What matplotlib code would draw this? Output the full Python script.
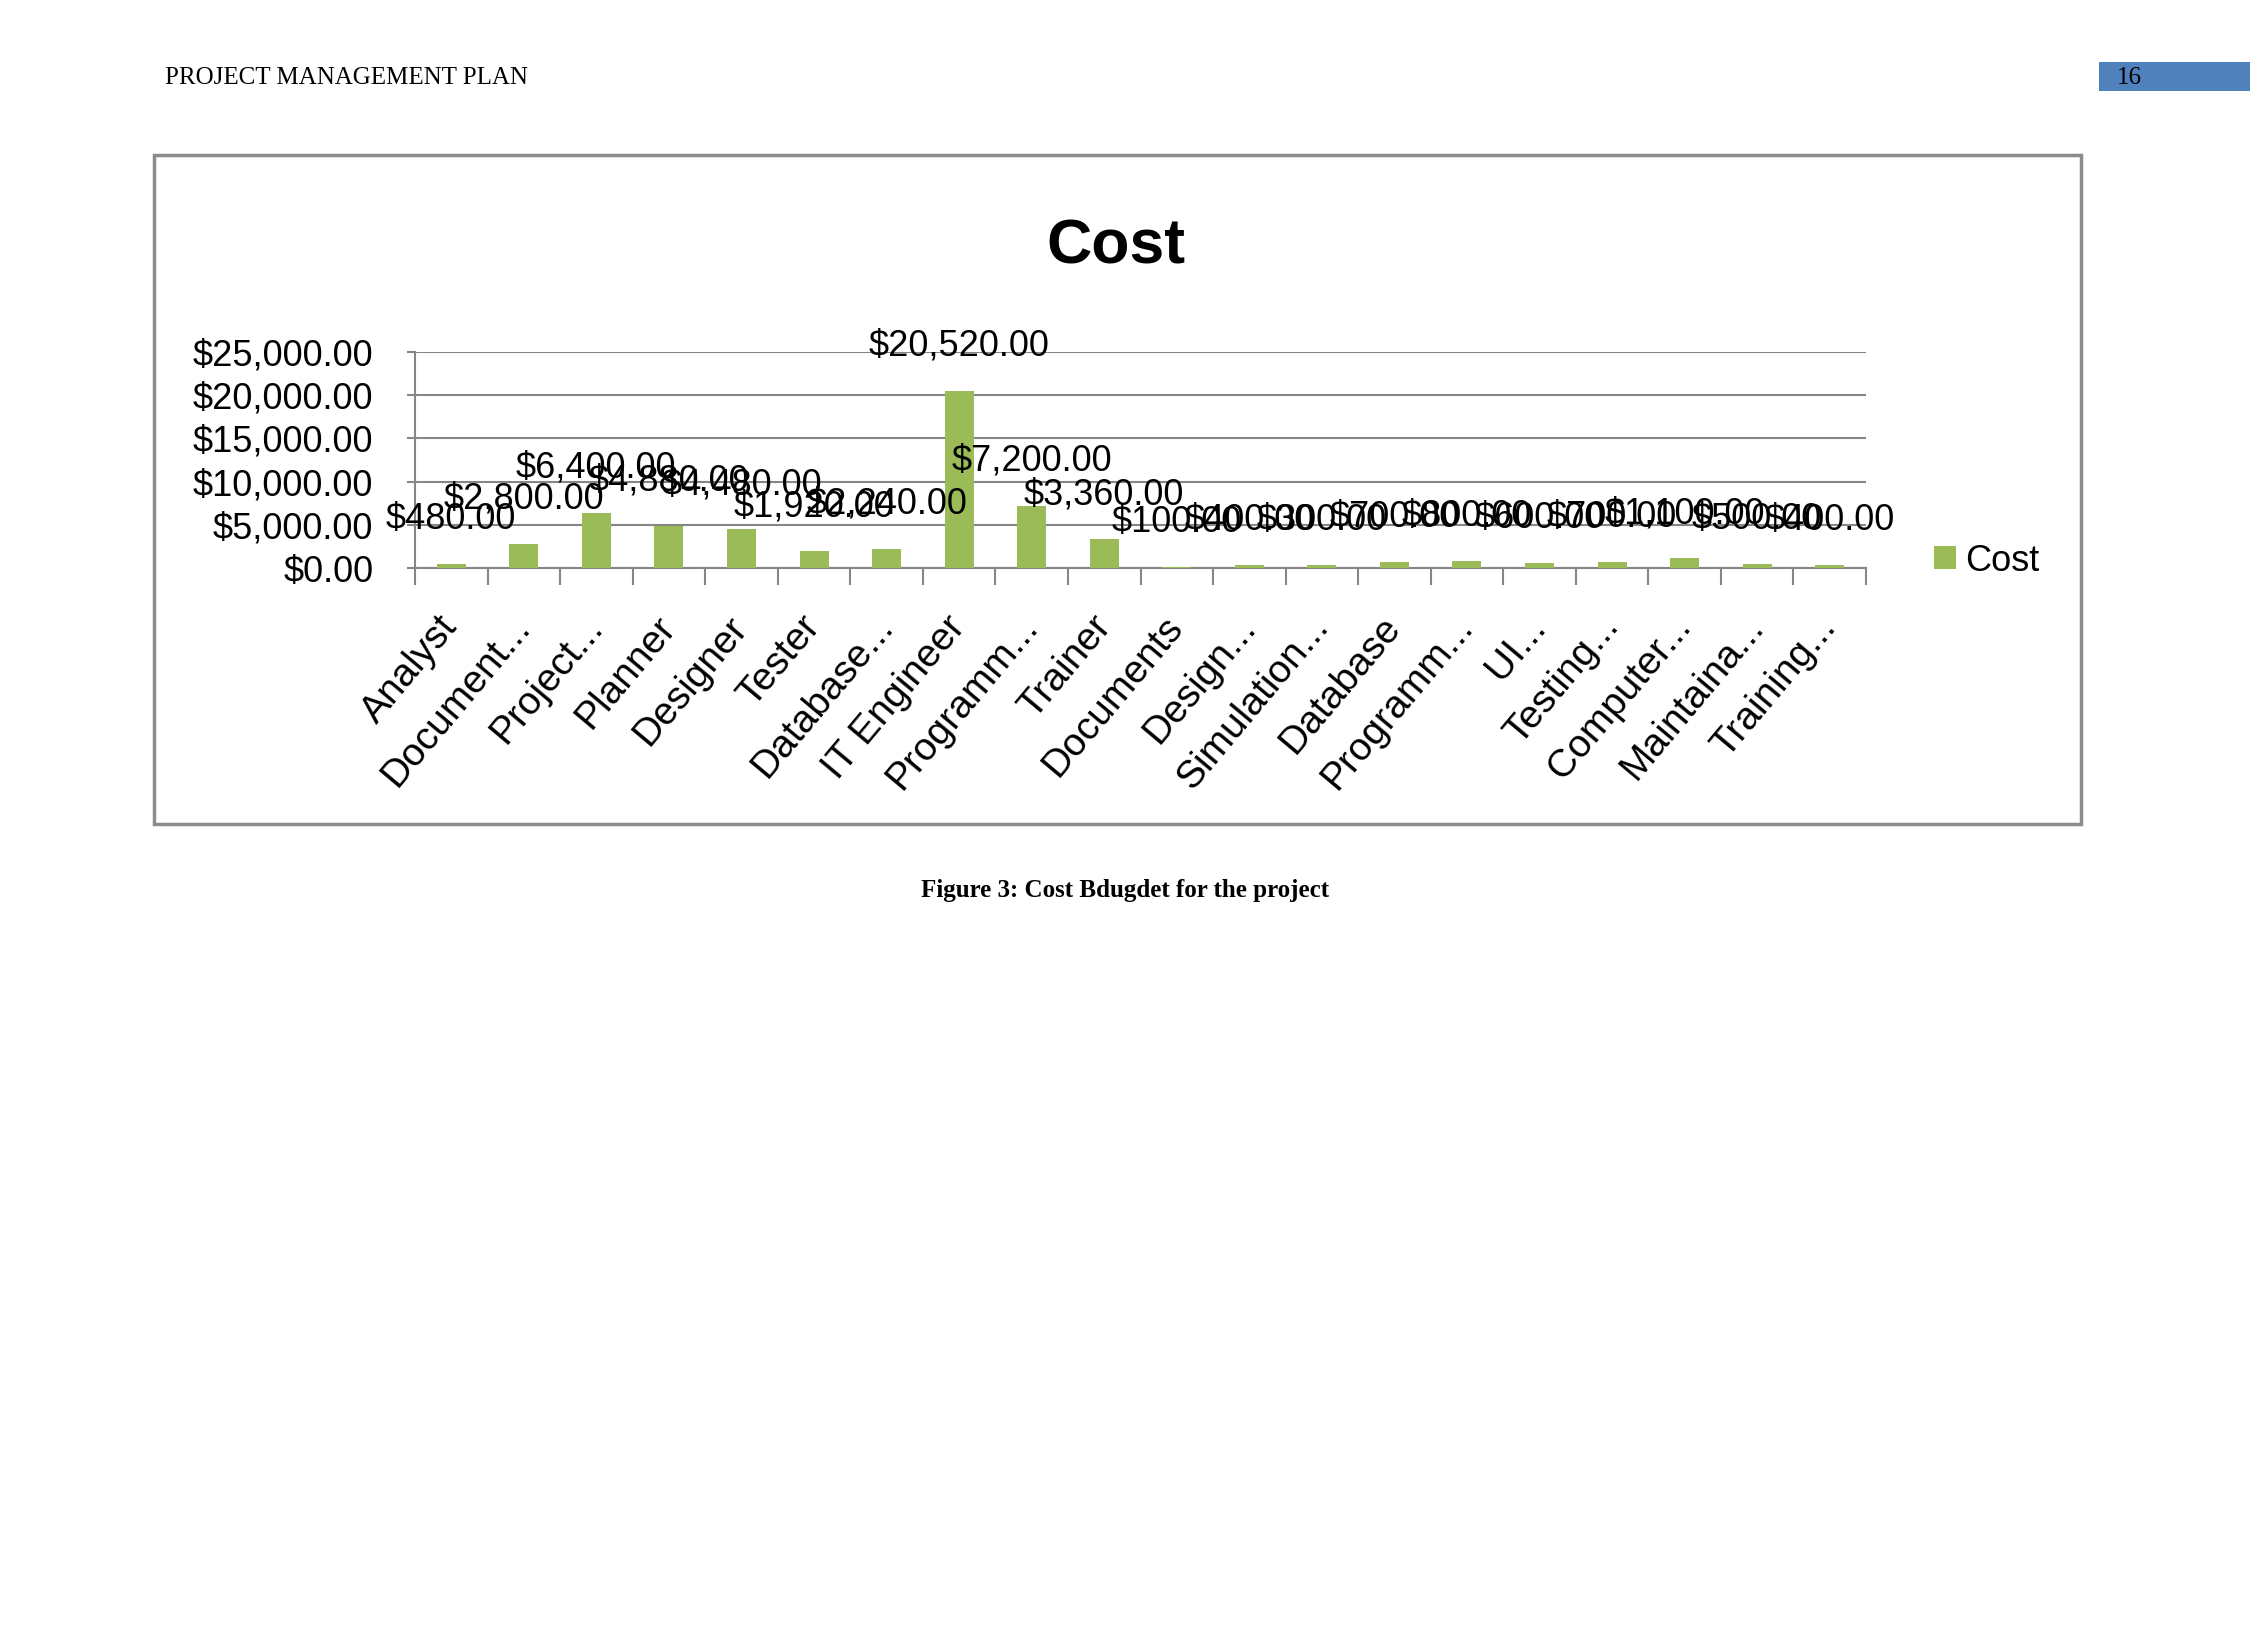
import matplotlib
matplotlib.use("Agg")
import matplotlib.pyplot as plt
from matplotlib import font_manager
from matplotlib.patches import Rectangle

# chart data
categories = [
    "Analyst", "Document...", "Project...", "Planner", "Designer", "Tester",
    "Database...", "IT Engineer", "Programm...", "Trainer", "Documents",
    "Design...", "Simulation...", "Database", "Programm...", "UI...",
    "Testing...", "Computer...", "Maintaina...", "Training...",
]
costs = [
    480, 2800, 6400, 4880, 4480, 1920, 2240, 20520, 7200, 3360, 100,
    400, 300, 700, 800, 600, 700, 1100, 500, 400,
]
y_ticks = [0, 5000, 10000, 15000, 20000, 25000]

header_text = "PROJECT MANAGEMENT PLAN"
page_number = "16"
chart_title = "Cost"
series_name = "Cost"
caption = "Figure 3: Cost Bdugdet for the project"

BAR_COLOR = "#9BBB59"
GRID_COLOR = "#868686"


def pick_font(names, fallback):
    installed = {f.name for f in font_manager.fontManager.ttflist}
    for name in names:
        if name in installed:
            return name
    return fallback


chart_font = pick_font(["Liberation Sans Narrow", "DejaVu Sans Condensed"], "Liberation Sans")
serif_font = pick_font(["Liberation Serif", "Times New Roman"], "DejaVu Serif")
narrow = chart_font != "Liberation Sans"
fs = 30 if narrow else 26

W, H = 2250, 1651
fig = plt.figure(figsize=(W / 100, H / 100), dpi=100)
fig.patch.set_facecolor("white")

# page header
fig.text(165 / W, 1 - 78 / H, header_text, family=serif_font, fontsize=18,
         ha="left", va="center", color="black")
fig.patches.append(Rectangle((2099 / W, 1 - 91 / H), (W - 2099) / W, 29 / H,
                             transform=fig.transFigure, facecolor="#4F81BD",
                             edgecolor="none", zorder=-1))
fig.text(2117 / W, 1 - 78 / H, page_number, family=serif_font, fontsize=18,
         ha="left", va="center", color="black")

# chart frame
fig.patches.append(Rectangle((154 / W, 1 - 824 / H), (2081 - 154) / W, (824 - 155) / H,
                             transform=fig.transFigure, facecolor="white",
                             edgecolor="#8C8C8C", linewidth=2.5, zorder=-1))

fig.text(1116 / W, 1 - 247 / H, chart_title, family=chart_font,
         fontsize=52 if narrow else 45, fontweight="bold", ha="center", va="center")

ax = fig.add_axes([415 / W, 1 - 568 / H, (1866 - 415) / W, (568 - 352) / H])
x = list(range(len(categories)))
bars = ax.bar(x, costs, width=0.4, color=BAR_COLOR, label=series_name, zorder=3)

for xi, v in zip(x, costs):
    ax.annotate(f"${v:,.2f}", (xi, v), xytext=(0, 32), textcoords="offset points",
                ha="center", va="center", family=chart_font, fontsize=fs, zorder=5,
                annotation_clip=False)

ax.set_xlim(-0.5, len(categories) - 0.5)
ax.set_ylim(0, 25000)
ax.set_yticks(y_ticks)
ax.set_yticklabels([f"${t:,.2f}" for t in y_ticks], family=chart_font, fontsize=fs)
ax.yaxis.grid(True, color=GRID_COLOR, linewidth=1.5, zorder=0)
ax.tick_params(axis="y", length=6, width=1.5, color=GRID_COLOR, pad=24)

ax.set_xticks(x)
ax.set_xticklabels(categories, family=chart_font, fontsize=fs + 2)
ax.set_xticks([i - 0.5 for i in range(len(categories) + 1)], minor=True)
ax.tick_params(axis="x", which="major", length=0, pad=38)
ax.tick_params(axis="x", which="minor", length=12, width=1.5, color=GRID_COLOR)
for lbl in ax.get_xticklabels():
    lbl.set_rotation(50)
    lbl.set_rotation_mode("anchor")
    lbl.set_ha("right")
    lbl.set_va("center")

for side in ["top", "right"]:
    ax.spines[side].set_visible(False)
for side in ["left", "bottom"]:
    ax.spines[side].set_color(GRID_COLOR)
    ax.spines[side].set_linewidth(1.5)
ax.set_facecolor("none")

leg = fig.legend(handles=[bars], labels=[series_name], loc="center left",
                 bbox_to_anchor=(1934 / W, 1 - 561 / H), frameon=False,
                 prop={"family": chart_font, "size": fs}, handlelength=0.6,
                 handleheight=0.6, handletextpad=0.25, borderpad=0, borderaxespad=0)

# caption under the chart
fig.text(1125 / W, 1 - 890 / H, caption, family=serif_font, fontsize=18,
         fontweight="bold", ha="center", va="center")

fig.savefig("out.png", dpi=100, facecolor="white")
